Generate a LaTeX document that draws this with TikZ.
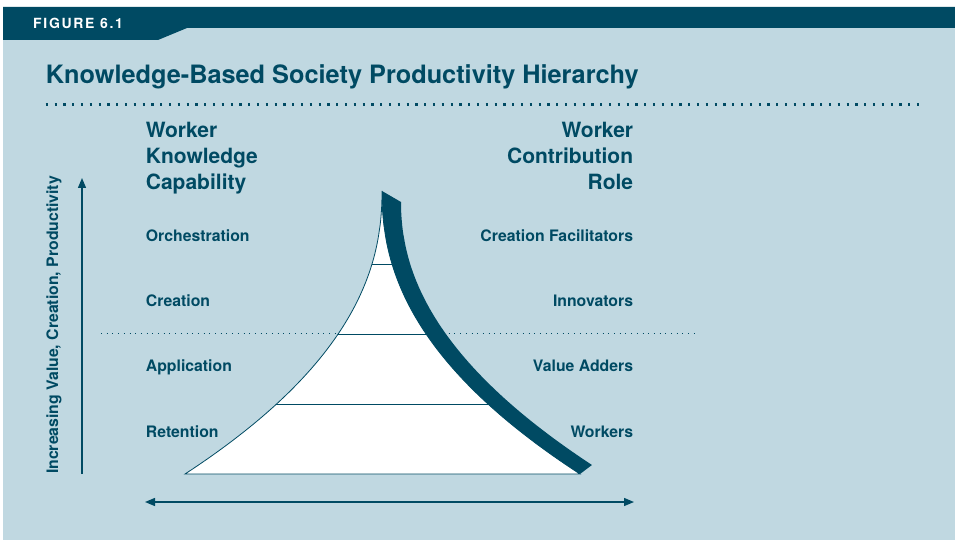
\documentclass[tikz,border=0pt]{standalone}
\usepackage{fontspec}
\setmainfont{TeX Gyre Heros}
\usetikzlibrary{arrows.meta}
\definecolor{figteal}{HTML}{004A63}
\definecolor{figpale}{HTML}{C0D8E1}
\tikzset{
    headtext/.style = {font=\fontsize{21}{25.7}\selectfont\bfseries, text=figteal, inner sep=0pt},
    leveltext/.style = {font=\fontsize{15.8}{18}\selectfont\bfseries, text=figteal, inner sep=0pt},
    axisarrow/.style = {draw=figteal, line width=1.3pt, >={Triangle[length=10pt,width=8pt]}},
    dotrule/.style = {draw=figteal, line width=1pt, dash pattern=on 1pt off 4.7pt},
}

\begin{document}
\begin{tikzpicture}[x=1pt,y=-1pt]
    \useasboundingbox (0,0) rectangle (955,540);
    % background and header band
    \fill[figpale] (3,28) rectangle (955,540);
    \fill[figteal] (3,7) -- (955,7) -- (955,28) -- (187,28) -- (158,40) -- (3,40) -- cycle;
    \node[anchor=base west, inner sep=0pt, text=white, font=\fontsize{14}{14}\selectfont\bfseries\addfontfeature{LetterSpace=12}] (fig) at (33,28.3) {FIGURE 6.1};

    \node[anchor=base west, inner sep=0pt, text=figteal, font=\fontsize{25.3}{25.3}\selectfont\bfseries] (title) at (45.7,83.3) {Knowledge-Based Society Productivity Hierarchy};
    \draw[figteal, line width=2.2pt, dash pattern=on 2.2pt off 6.6pt] (45.7,104.5) -- (920,104.5);

    % column headings (anchored on the last line)
    \node[headtext, anchor=base west, align=left] (capab) at (145.7,189.1) {Worker\\Knowledge\\Capability};
    \node[headtext, anchor=base east, align=right] (role) at (633.3,189.1) {Worker\\Contribution\\Role};

    % level labels
    \node[leveltext, anchor=base west] (orch) at (145.7,241) {Orchestration};
    \node[leveltext, anchor=base west] (crea) at (145.7,306.3) {Creation};
    \node[leveltext, anchor=base west] (appl) at (145.7,371.6) {Application};
    \node[leveltext, anchor=base west] (rete) at (145.7,437) {Retention};

    \node[leveltext, anchor=base east] (facil) at (633.3,241) {Creation Facilitators};
    \node[leveltext, anchor=base east] (innov) at (633.3,306.3) {Innovators};
    \node[leveltext, anchor=base east] (adder) at (633.3,371.6) {Value Adders};
    \node[leveltext, anchor=base east] (work) at (633.3,437) {Workers};

    \draw[dotrule] (101,333.5) -- (697,333.5);

    % pyramid
    \draw[figteal, line width=0.8pt, fill=white] (382,191)
        -- plot[domain=191.5:474, samples=60, variable=\y] ({382-197*pow((\y-191)/283,2.2)}, \y)
        -- (580,474)
        -- plot[domain=474:191.5, samples=60, variable=\y] ({382+198*pow((\y-191)/283,2.2)}, \y)
        -- cycle;
    \begin{scope}
        \clip (382,191)
            -- plot[domain=191.5:474, samples=60, variable=\y] ({382-197*pow((\y-191)/283,2.2)}, \y)
            -- plot[domain=474:191.5, samples=60, variable=\y] ({382+198*pow((\y-191)/283,2.2)}, \y)
            -- cycle;
        \draw[figteal, line width=1pt] (150,264) -- (650,264);
        \draw[figteal, line width=1pt] (150,334) -- (650,334);
        \draw[figteal, line width=1pt] (150,404) -- (650,404);
    \end{scope}

    % contribution band
    \fill[figteal] (382,191) -- (401,202)
        -- plot[domain=202.5:465, samples=60, variable=\y] ({401+191*pow((\y-202)/263,2.1)}, \y)
        -- (580,474)
        -- plot[domain=474:191.5, samples=60, variable=\y] ({382+198*pow((\y-191)/283,2.2)}, \y)
        -- cycle;

    % axes
    \coordinate (vbot) at (82,474);
    \coordinate (vtop) at (82,178);
    \draw[axisarrow, ->] (vbot) -- (vtop);
    \node[leveltext, rotate=90] (axis) at (54,325) {Increasing Value, Creation, Productivity};

    \coordinate (hleft) at (145,502);
    \coordinate (hright) at (634,502);
    \draw[axisarrow, <->] (hleft) -- (hright);
\end{tikzpicture}
\end{document}
